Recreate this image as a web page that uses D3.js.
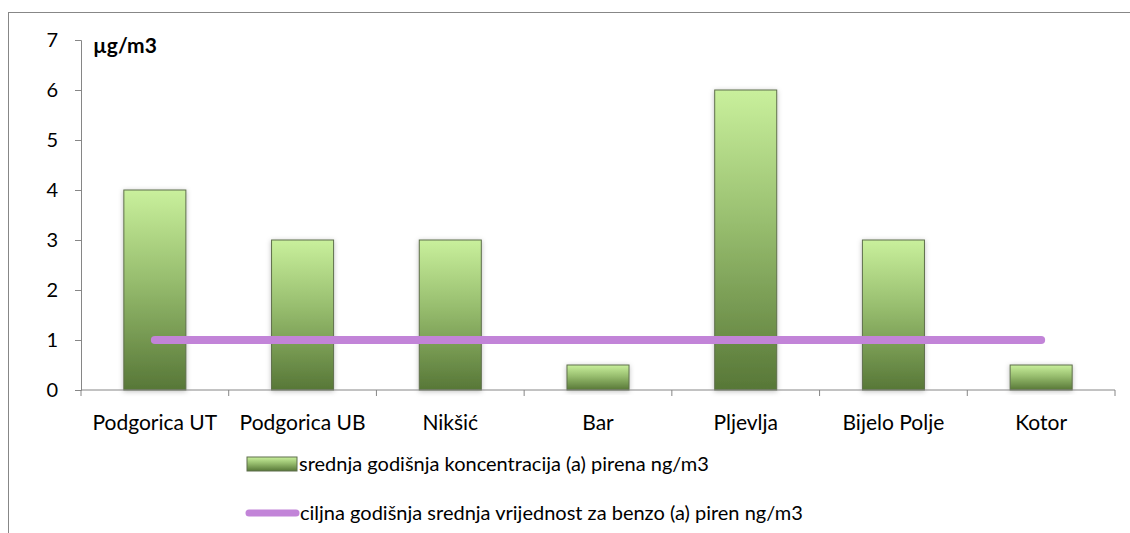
<!DOCTYPE html>
<html>
<head>
<meta charset="utf-8">
<script src="https://cdn.jsdelivr.net/npm/d3@7/dist/d3.min.js"></script>
<style>
  body { margin: 0; background: #fff; }
  text { font-family: Lato, "Open Sans", sans-serif; fill: #000; }
</style>
</head>
<body>
<div class="chart_area"></div>
<script>
// data
var stations = ["Podgorica UT", "Podgorica UB", "Nikšić", "Bar", "Pljevlja", "Bijelo Polje", "Kotor"];
var concentration = [4, 3, 3, 0.5, 6, 3, 0.5];
var target = [1, 1, 1, 1, 1, 1, 1];
var yTicks = [0, 1, 2, 3, 4, 5, 6, 7];
var unitLabel = "µg/m3";
var legendBar = "srednja godišnja koncentracija (a) pirena ng/m3";
var legendLine = "ciljna godišnja srednja vrijednost za benzo (a) piren ng/m3";

var width = 1130, height = 533;
var margin = {left: 81, right: 15, top: 40, bottom: 143};
var plotW = width - margin.left - margin.right;
var plotH = height - margin.top - margin.bottom;

var svg = d3.select(".chart_area").append("svg")
  .attr("width", width)
  .attr("height", height);

var defs = svg.append("defs");
var grad = defs.append("linearGradient")
  .attr("id", "barGrad")
  .attr("x1", 0).attr("y1", 0).attr("x2", 0).attr("y2", 1);
grad.append("stop").attr("offset", "0%").attr("stop-color", "#c9f09c");
grad.append("stop").attr("offset", "45%").attr("stop-color", "#97bd6e");
grad.append("stop").attr("offset", "100%").attr("stop-color", "#577737");

var shadow = defs.append("filter").attr("id", "shadow")
  .attr("x", "-20%").attr("y", "-20%").attr("width", "140%").attr("height", "140%");
shadow.append("feDropShadow")
  .attr("dx", 0).attr("dy", 1).attr("stdDeviation", 2.5)
  .attr("flood-color", "#000").attr("flood-opacity", 0.25);

// outer frame
svg.append("rect")
  .attr("x", 8.5).attr("y", 12.5)
  .attr("width", 1140).attr("height", 540)
  .attr("fill", "none")
  .attr("stroke", "#878787")
  .attr("stroke-width", 1);

var g = svg.append("g")
  .attr("transform", "translate(" + margin.left + "," + margin.top + ")");

var x = d3.scaleBand()
  .domain(stations)
  .range([0, plotW])
  .paddingInner(0.58)
  .paddingOuter(0.29);

var xc = d3.scalePoint()
  .domain(stations)
  .range([0, plotW])
  .padding(0.5);

var y = d3.scaleLinear()
  .domain([0, 7])
  .range([plotH, 0]);

// bars
g.selectAll(".bar")
  .data(concentration)
  .enter().append("rect")
  .attr("class", "bar")
  .attr("x", function (d, i) { return x(stations[i]); })
  .attr("y", function (d) { return y(d); })
  .attr("width", x.bandwidth())
  .attr("height", function (d) { return y(0) - y(d); })
  .attr("fill", "url(#barGrad)")
  .attr("stroke", "#5f6f4c")
  .attr("stroke-width", 1)
  .attr("filter", "url(#shadow)");

// y axis
var yAxis = g.append("g")
  .call(d3.axisLeft(y).tickValues(yTicks).tickSize(6).tickPadding(17).tickFormat(d3.format("d")));
yAxis.select(".domain").attr("stroke", "#868686");
yAxis.selectAll(".tick line").attr("stroke", "#868686");
yAxis.selectAll("text").style("font-size", "20px").attr("fill", "#000");

// x axis
var xTickPos = d3.range(stations.length + 1).map(function (i) { return i * plotW / stations.length; });
var xAxis = g.append("g")
  .attr("transform", "translate(0," + plotH + ")");
xAxis.append("line")
  .attr("x1", 0).attr("x2", plotW)
  .attr("stroke", "#868686");
xAxis.selectAll(".xtick")
  .data(xTickPos)
  .enter().append("line")
  .attr("x1", function (d) { return d; })
  .attr("x2", function (d) { return d; })
  .attr("y1", 0).attr("y2", 6)
  .attr("stroke", "#868686");
xAxis.selectAll(".xlabel")
  .data(stations)
  .enter().append("text")
  .attr("x", function (d) { return xc(d); })
  .attr("y", 40)
  .attr("text-anchor", "middle")
  .style("font-size", "21px")
  .text(function (d) { return d; });

// target line
var line = d3.line()
  .x(function (d, i) { return xc(stations[i]); })
  .y(function (d) { return y(d); });
g.append("path")
  .datum(target)
  .attr("d", line)
  .attr("fill", "none")
  .attr("stroke", "#c284d8")
  .attr("stroke-width", 8)
  .attr("stroke-linecap", "round");

// unit label
svg.append("text")
  .attr("x", 93)
  .attr("y", 53)
  .style("font-size", "21px")
  .style("font-weight", "bold")
  .text(unitLabel);

// legend
var leg = svg.append("g");
leg.append("rect")
  .attr("x", 247).attr("y", 457)
  .attr("width", 50).attr("height", 14)
  .attr("fill", "url(#barGrad)")
  .attr("stroke", "#5f6f4c");
leg.append("text")
  .attr("x", 299).attr("y", 471)
  .style("font-size", "20px")
  .text(legendBar);
leg.append("line")
  .attr("x1", 249).attr("x2", 296)
  .attr("y1", 513).attr("y2", 513)
  .attr("stroke", "#c284d8")
  .attr("stroke-width", 7)
  .attr("stroke-linecap", "round");
leg.append("text")
  .attr("x", 300).attr("y", 520)
  .style("font-size", "20px")
  .text(legendLine);
</script>
</body>
</html>
